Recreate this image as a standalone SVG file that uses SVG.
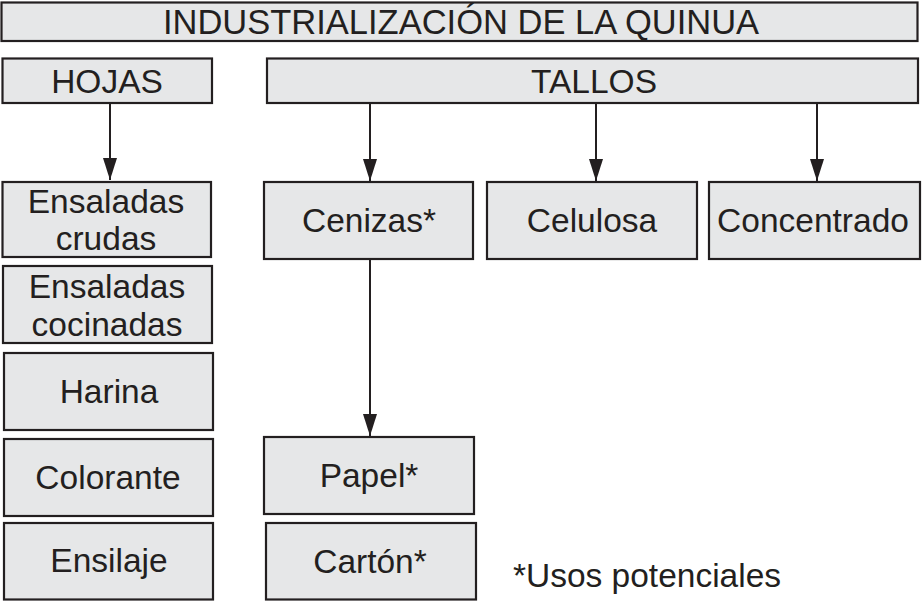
<svg xmlns="http://www.w3.org/2000/svg" width="922" height="601" viewBox="0 0 922 601">
<style>
.box{fill:#e6e7e8;stroke:#231f20;stroke-width:2.2}
.t{font-family:"Liberation Sans",Arial,sans-serif;font-size:33.5px;fill:#231f20;text-anchor:middle}
.tt{font-size:34.5px}
.c{stroke:#231f20;stroke-width:2;fill:none}
</style>
<defs>
<marker id="ah" markerUnits="userSpaceOnUse" markerWidth="24" markerHeight="16" refX="22" refY="7" orient="auto" viewBox="0 0 24 14">
<path d="M0,0 L22,7 L0,14 Z" fill="#231f20"/>
</marker>
</defs>
<rect width="922" height="601" fill="#ffffff"/>
<g id="title"><rect class="box" x="1.5" y="2.5" width="916" height="38.5"/><text class="t tt" x="461" y="34">INDUSTRIALIZACIÓN DE LA QUINUA</text></g>
<g id="hojas"><rect class="box" x="2.5" y="58.5" width="209.5" height="44.5"/><text class="t" x="107" y="93">HOJAS</text></g>
<g id="tallos"><rect class="box" x="267" y="58.5" width="651" height="44.5"/><text class="t" x="594" y="93">TALLOS</text></g>
<g id="ens-crudas"><rect class="box" x="2.5" y="182" width="208.5" height="75"/><text class="t" x="106" y="213">Ensaladas</text><text class="t" x="106" y="250">crudas</text></g>
<g id="ens-cocinadas"><rect class="box" x="3" y="266" width="209" height="77"/><text class="t" x="107" y="298">Ensaladas</text><text class="t" x="107" y="336">cocinadas</text></g>
<g id="harina"><rect class="box" x="4" y="353" width="209" height="77"/><text class="t" x="109" y="403">Harina</text></g>
<g id="colorante"><rect class="box" x="4" y="439" width="209" height="77"/><text class="t" x="108" y="489">Colorante</text></g>
<g id="ensilaje"><rect class="box" x="4" y="523" width="209" height="76.5"/><text class="t" x="109" y="572">Ensilaje</text></g>
<g id="cenizas"><rect class="box" x="264" y="182" width="209" height="77"/><text class="t" x="369" y="232">Cenizas*</text></g>
<g id="celulosa"><rect class="box" x="487" y="182" width="210" height="77"/><text class="t" x="592" y="232">Celulosa</text></g>
<g id="concentrado"><rect class="box" x="709" y="182" width="211" height="77"/><text class="t" x="813" y="232">Concentrado</text></g>
<g id="papel"><rect class="box" x="264" y="437" width="210" height="77"/><text class="t" x="369" y="487">Papel*</text></g>
<g id="carton"><rect class="box" x="266" y="523" width="210" height="76.5"/><text class="t" x="370" y="573">Cartón*</text></g>
<g id="nota"><text class="t" x="647" y="587">*Usos potenciales</text></g>
<g id="connectors">
<line class="c" x1="110" y1="103" x2="110" y2="180" marker-end="url(#ah)"/>
<line class="c" x1="370" y1="103" x2="370" y2="181" marker-end="url(#ah)"/>
<line class="c" x1="596" y1="103" x2="596" y2="181" marker-end="url(#ah)"/>
<line class="c" x1="817" y1="103" x2="817" y2="181" marker-end="url(#ah)"/>
<line class="c" x1="370" y1="259" x2="370" y2="436" marker-end="url(#ah)"/>
</g>
</svg>
